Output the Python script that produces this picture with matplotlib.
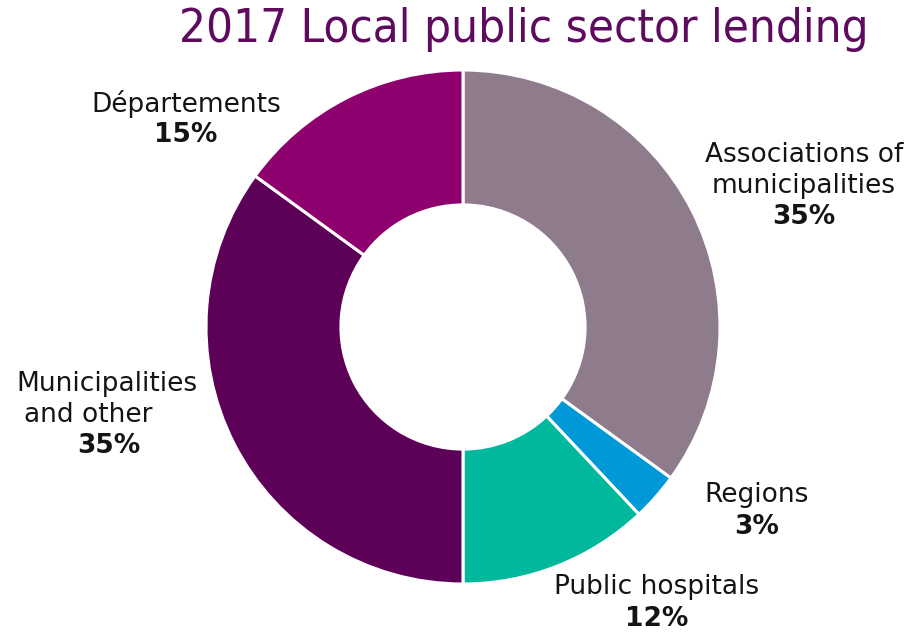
import matplotlib
matplotlib.use("Agg")
import matplotlib.pyplot as plt

# data
labels = ["Associations of\nmunicipalities", "Regions", "Public hospitals",
          "Municipalities\nand other", "Départements"]
shares = [35, 3, 12, 35, 15]
colors = ["#8E7B8B", "#0098D6", "#00B89B", "#5C0058", "#8F006F"]
title = "2017 Local public sector lending"

W, H = 909, 634
cx, cy, r = 463, 327, 257   # centre + outer radius in pixels (from top)

fig = plt.figure(figsize=(W / 100, H / 100), dpi=100)
ax = fig.add_axes([(cx - r) / W, (H - cy - r) / H, 2 * r / W, 2 * r / H])
ax.pie(shares, colors=colors, startangle=90, counterclock=False,
       radius=1, wedgeprops=dict(width=0.525, edgecolor="white", linewidth=2.2))
ax.set_xlim(-1, 1)
ax.set_ylim(-1, 1)
ax.set_aspect("equal")
ax.axis("off")


def px(x, y):
    # pixel (from top-left) -> data coords of the pie axes
    return (x - cx) / r, (cy - y) / r


fs = 19
tc = "#141414"
# x centre, y of first label line, y of pct line
spots = [(804, 155, 217), (757, 495, 527), (657, 587, 619), None, (186, 104, 135)]
for lab, val, s in zip(labels, shares, spots):
    if s is None:
        continue
    x, ly, py = s
    for i, line in enumerate(lab.split("\n")):
        ax.text(*px(x, ly + 31 * i), line, ha="center", va="center",
                fontsize=fs, color=tc, clip_on=False)
    ax.text(*px(x, py), f"{val}%", ha="center", va="center", fontsize=fs,
            fontweight="bold", color=tc, clip_on=False)

# left label is indented by hand in the original
ax.text(*px(16, 384), "Municipalities", ha="left", va="center", fontsize=fs,
        color=tc, clip_on=False)
ax.text(*px(24, 415), "and other", ha="left", va="center", fontsize=fs,
        color=tc, clip_on=False)
ax.text(*px(109, 446), f"{shares[3]}%", ha="center", va="center", fontsize=fs,
        fontweight="bold", color=tc, clip_on=False)

fig.text(524 / W, 1 - 30 / H, title, ha="center", va="center", fontsize=34,
         color="#5E0A5E", fontstretch="condensed")

fig.savefig("out.png", dpi=100)
